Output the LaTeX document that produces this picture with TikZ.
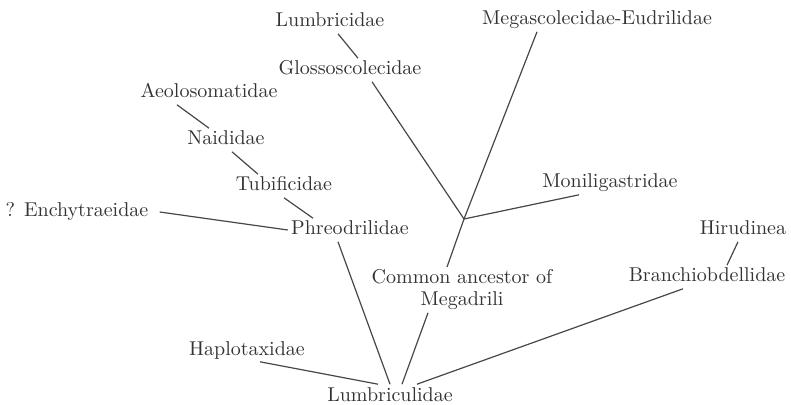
\documentclass[tikz,border=0pt]{standalone}
\usepackage{xcolor}
\usepackage{tikz}
\usetikzlibrary{positioning}

\begin{document}
\begin{tikzpicture}[
  x = 0.5pt, y = -0.5pt,
  taxon/.style = {anchor=base, inner xsep=1.5pt, inner ysep=1.2pt,
                  text height=7pt, text depth=2pt, text=black!80},
  branch/.style = {draw=black!72, line width=0.6pt}
]
\useasboundingbox (0,0) rectangle (791,405);

\node[taxon] (lumbr)  at (330,27)  {Lumbricidae};
\node[taxon] (gloss)  at (350,75)  {Glossoscolecidae};
\node[taxon] (mega)   at (597,25)  {Megascolecidae-Eudrilidae};
\node[taxon] (aeolo)  at (209,98)  {Aeolosomatidae};
\node[taxon] (naid)   at (226,145) {Naididae};
\node[taxon] (tubif)  at (284,191) {Tubificidae};
\node[taxon] (ench)   at (77,217)  {? Enchytraeidae};
\node[taxon] (phreo)  at (350,235) {Phreodrilidae};
\node[taxon] (monil)  at (610,188) {Moniligastridae};
\node[taxon] (hirud)  at (743,235) {Hirudinea};
\node[taxon] (branch) at (707,282) {Branchiobdellidae};
\node[taxon] (haplo)  at (247,355) {Haplotaxidae};
\node[taxon] (lumbc)  at (390,401) {Lumbriculidae};
\node[anchor=north, align=center, inner sep=1.2pt, text=black!80,
      font=\fontsize{10}{11}\selectfont] (anc) at (462,267)
      {Common ancestor of\\Megadrili};

\coordinate (jn) at (464,219);

\draw[branch] ([xshift=4pt]lumbr.south) -- ([xshift=4pt]gloss.north);
\draw[branch] ([xshift=11pt]gloss.south) -- (jn);
\draw[branch] ([xshift=-30pt]mega.south) -- (jn);
\draw[branch] ([xshift=-15.5pt]monil.south) -- (jn);
\draw[branch] (jn) -- ([xshift=-7.5pt]anc.north);

\draw[branch] ([xshift=-16pt]aeolo.south) -- ([xshift=-8.5pt]naid.north);
\draw[branch] ([xshift=3pt]naid.south) -- ([xshift=-13pt]tubif.north);
\draw[branch] (tubif.south) -- ([xshift=-18.5pt]phreo.north);
\draw[branch] ([xshift=4pt]ench.east) -- (phreo.west);

\draw[branch] ([xshift=-2.5pt]hirud.south) -- ([xshift=10pt]branch.north);

\draw[branch] ([xshift=-6pt]phreo.south) -- (lumbc.north);
\draw[branch] ([xshift=-17pt]anc.south) -- ([xshift=6pt]lumbc.north);
\draw[branch] ([xshift=6.5pt]haplo.south) -- ([xshift=-6pt]lumbc.north);
\draw[branch] ([xshift=-12pt]branch.south) -- ([xshift=13.5pt]lumbc.north);
\end{tikzpicture}
\end{document}
